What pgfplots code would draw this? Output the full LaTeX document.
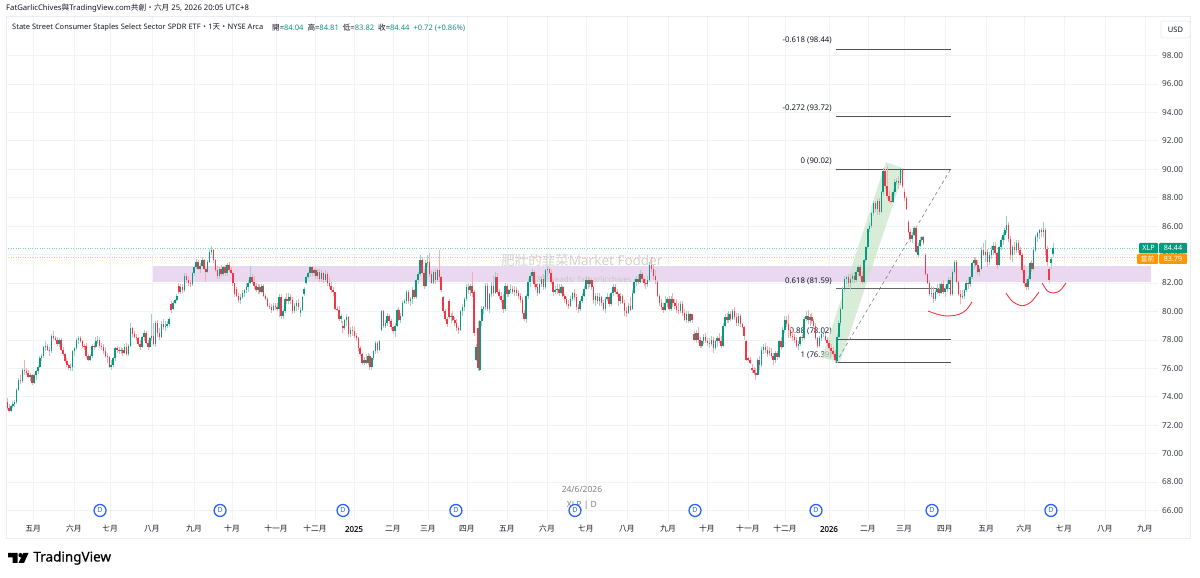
\documentclass[border=0pt]{standalone}
\usepackage{fontspec}
\usepackage{pgfplots}
\usepackage{pgfplotstable}
\pgfplotsset{compat=1.18}
\setmainfont{Noto Sans}
\newfontfamily\cjkf{Noto Sans CJK TC}
\newfontfamily\fakeb[FakeBold=0.7]{Noto Sans}
\newfontfamily\logof[FakeBold=0.5]{Noto Sans}
\newcommand\zh[1]{{\cjkf #1}}
\definecolor{tvgreen}{HTML}{089981}
\definecolor{tvred}{HTML}{F23645}
\definecolor{tvorange}{HTML}{FF9800}
\definecolor{tvblue}{HTML}{2962FF}
\definecolor{tvgrid}{HTML}{F1F3F6}
\definecolor{tvframe}{HTML}{E9ECF1}
\definecolor{tvtext}{HTML}{131722}
\definecolor{zone}{HTML}{E8D5EF}
\definecolor{channel}{HTML}{C8E6C9}
\definecolor{wm}{HTML}{D2D2D2}
\colorlet{wickg}{tvgreen!42!white}
\colorlet{wickr}{tvred!42!white}
\pgfplotstableread{
i o h l c
0 73.6 73.9 73.1 73.2
1 73.2 73.5 72.95 73.0
2 73.0 73.4 72.95 73.35
3 73.35 73.7 73.2 73.5
4 73.5 73.8 73.3 73.6
5 73.6 74.6 73.5 74.5
6 74.5 75.3 74.4 75.2
7 75.2 75.5 74.9 75.1
8 75.1 76.0 75.0 75.9
9 75.9 76.6 75.5 75.8
10 75.8 76.0 75.5 75.7
11 75.7 75.9 75.3 75.4
12 75.4 75.7 75.1 75.5
13 75.5 75.6 74.8 75.0
14 75.0 75.6 74.9 75.5
15 75.5 75.9 75.2 75.8
16 75.8 76.2 75.6 76.1
17 76.1 76.9 76.0 76.7
18 76.7 77.0 76.5 76.9
19 76.9 77.6 76.7 77.5
20 77.5 77.9 77.2 77.6
21 77.6 77.7 77.2 77.3
22 77.3 77.5 76.9 77.2
23 77.2 78.4 77.1 78.3
24 78.3 78.6 78.0 78.1
25 78.1 78.3 77.9 78.0
26 78.0 78.2 77.6 77.7
27 77.7 78.1 77.5 78.0
28 78.0 78.1 77.2 77.3
29 77.3 77.5 76.9 77.0
30 77.0 77.1 76.4 76.5
31 76.5 76.7 76.1 76.2
32 76.2 76.3 75.9 76.0
33 76.0 76.3 75.8 76.1
34 76.1 77.3 75.8 77.2
35 77.2 77.5 76.9 77.4
36 77.4 78.1 77.3 78.0
37 78.0 78.3 77.7 78.1
38 78.1 78.3 77.8 77.9
39 77.9 78.0 77.4 77.6
40 77.6 77.7 77.3 77.5
41 77.6 77.8 76.7 76.9
42 76.9 77.0 76.5 76.6
43 76.6 77.0 76.5 76.9
44 76.9 77.7 76.7 77.6
45 77.6 77.8 77.3 77.5
46 77.5 78.2 77.4 77.9
47 77.9 78.3 77.7 78.0
48 78.0 78.2 77.4 77.6
49 77.6 77.8 77.3 77.5
50 77.5 77.7 77.0 77.2
51 77.2 77.5 76.7 76.9
52 76.9 77.1 76.4 76.8
53 76.8 76.9 76.0 76.1
54 76.1 76.6 75.9 76.2
55 76.2 76.8 76.1 76.7
56 76.7 77.5 76.5 77.4
57 77.4 77.6 77.1 77.3
58 77.3 77.5 77.0 77.2
59 77.2 77.5 77.0 77.3
60 77.3 77.4 76.9 77.1
61 77.1 77.7 77.0 77.5
62 77.5 77.8 76.9 77.0
63 77.0 77.7 76.9 77.6
64 77.6 79.2 77.5 78.8
65 78.8 78.9 78.2 78.4
66 78.4 78.6 78.1 78.2
67 78.2 78.4 77.9 78.1
68 78.1 78.2 77.6 77.7
69 77.7 78.0 77.3 77.5
70 77.5 78.3 77.4 78.2
71 78.2 78.7 77.9 78.5
72 78.5 78.6 77.7 77.8
73 77.8 78.0 77.3 77.5
74 77.5 78.2 77.4 78.1
75 78.1 79.8 77.9 78.3
76 78.3 79.2 77.6 77.7
77 77.7 79.3 77.5 79.2
78 79.2 79.4 78.2 78.5
79 78.5 78.8 78.0 78.2
80 78.2 79.3 78.1 79.1
81 79.1 79.5 78.7 78.9
82 78.9 79.3 78.6 79.0
83 79.0 79.3 78.8 79.1
84 79.1 79.6 78.9 79.5
85 80.5 80.7 79.9 80.1
86 80.2 80.7 80.1 80.6
87 80.6 80.9 80.5 80.8
88 80.8 81.2 80.7 81.1
89 81.8 82.0 81.2 81.4
90 81.4 81.9 81.2 81.7
91 81.7 81.9 81.3 81.5
92 81.5 82.7 81.4 82.5
93 82.5 82.7 82.0 82.2
94 82.2 82.4 81.8 82.0
95 82.0 82.2 81.7 81.9
96 81.9 82.8 81.8 82.7
97 82.7 83.2 82.5 83.1
98 83.1 83.7 83.0 83.5
99 83.5 83.6 82.9 83.0
100 83.0 83.4 82.7 83.2
101 83.2 83.8 83.1 83.6
102 83.6 83.7 82.9 83.0
103 83.0 83.2 82.1 82.8
104 82.8 83.6 82.7 83.5
105 83.5 84.4 83.4 84.2
106 84.2 84.6 84.0 84.3
107 84.3 84.4 83.4 83.6
108 83.6 83.7 82.8 82.9
109 82.9 83.2 82.3 82.5
110 82.5 83.1 82.3 83.0
111 83.0 83.3 82.4 82.6
112 82.6 83.2 82.5 83.1
113 83.1 83.3 82.5 82.7
114 82.7 83.4 82.5 83.3
115 83.3 83.5 82.8 82.9
116 82.9 83.1 82.6 82.7
117 82.7 82.8 81.8 82.0
118 82.0 82.0 81.0 81.2
119 81.6 81.7 81.0 81.1
120 81.1 81.3 80.6 80.8
121 80.8 81.2 80.5 81.0
122 81.0 81.5 80.9 81.3
123 81.3 81.6 81.0 81.5
124 81.5 82.0 81.3 81.7
125 81.7 82.2 81.4 82.0
126 82.0 83.2 81.9 82.4
127 82.4 82.6 81.9 82.1
128 82.1 82.5 81.6 81.8
129 81.8 82.0 81.4 81.5
130 81.5 81.9 81.2 81.7
131 81.7 81.9 81.2 81.4
132 81.4 81.9 81.3 81.8
133 81.8 81.9 81.0 81.1
134 81.1 81.2 80.8 80.9
135 80.9 81.0 80.3 80.4
136 80.4 80.6 80.2 80.3
137 80.3 80.5 79.9 80.1
138 80.1 80.6 80.0 80.4
139 80.4 80.6 80.1 80.3
140 80.3 80.6 80.0 80.2
141 80.2 81.2 79.6 81.0
142 81.0 81.2 79.5 79.7
143 79.7 80.2 79.5 80.0
144 80.0 81.0 79.9 80.9
145 80.9 81.3 80.5 80.7
146 80.7 81.3 80.5 81.0
147 81.0 81.2 80.5 80.8
148 80.8 81.0 79.8 80.0
149 80.0 80.6 79.9 80.4
150 80.4 80.8 80.0 80.6
151 80.6 80.9 80.1 80.3
152 79.9 80.3 79.6 80.1
153 80.1 81.1 80.0 81.0
154 81.2 81.7 81.1 81.6
155 82.0 82.5 81.9 82.4
156 82.4 82.8 82.3 82.7
157 82.7 83.2 82.4 83.1
158 83.1 83.2 82.5 82.7
159 82.7 83.0 82.5 82.9
160 82.9 83.1 82.3 82.5
161 82.5 83.0 82.3 82.8
162 82.8 83.0 82.1 82.3
163 82.3 82.9 82.1 82.7
164 82.7 82.8 82.0 82.2
165 82.2 82.9 82.1 82.6
166 82.6 82.8 81.8 82.0
167 82.0 82.4 81.6 81.8
168 81.8 82.1 81.3 81.5
169 81.5 81.7 81.1 81.4
170 81.4 81.4 80.1 80.2
171 80.2 80.4 80.0 80.1
172 80.1 80.4 79.3 79.5
173 79.5 79.8 79.2 79.7
174 79.0 79.3 78.5 78.8
175 78.8 79.5 78.7 79.4
176 79.4 79.8 79.0 79.6
177 79.6 79.7 78.2 78.4
178 78.4 78.9 78.2 78.7
179 78.7 79.0 78.3 78.6
180 78.6 78.9 78.1 78.3
181 78.3 78.5 77.9 78.1
182 78.1 78.2 77.2 77.4
183 77.4 77.6 76.9 77.0
184 77.0 77.1 76.2 76.4
185 76.4 76.8 76.2 76.6
186 76.6 77.0 76.3 76.4
187 76.4 77.1 76.2 76.9
188 76.9 77.0 75.9 76.1
189 76.1 76.8 75.9 76.7
190 76.7 77.3 76.6 77.2
191 77.2 77.9 77.0 77.8
192 77.8 77.9 77.1 77.3
193 77.3 78.0 77.2 77.9
194 78.7 80.1 78.6 80.0
195 80.0 80.1 78.8 79.0
196 79.0 79.4 78.8 79.2
197 79.2 79.9 79.0 79.7
198 79.7 79.8 79.1 79.3
199 79.3 79.5 78.7 78.9
200 78.9 79.0 78.4 78.6
201 78.6 79.2 78.2 79.0
202 79.0 80.2 78.9 80.1
203 80.1 80.3 79.3 79.4
204 79.4 79.9 79.2 79.7
205 79.7 80.7 79.6 80.6
206 80.6 80.9 80.5 80.7
207 80.7 81.5 80.5 81.4
208 81.4 81.5 80.5 80.7
209 80.7 81.0 80.4 80.9
210 80.9 81.7 80.5 81.5
211 81.5 81.6 80.9 81.0
212 81.0 82.3 80.9 82.2
213 82.2 82.8 81.9 82.6
214 82.6 84.0 82.5 83.6
215 83.6 83.8 82.6 82.7
216 82.7 83.0 81.6 81.8
217 81.8 83.6 81.7 83.4
218 83.4 84.0 83.1 83.5
219 83.5 84.1 82.4 82.6
220 82.6 82.9 81.9 82.0
221 82.0 82.9 81.9 82.8
222 82.8 83.0 81.9 82.2
223 82.2 83.0 82.1 82.9
224 82.9 84.3 82.1 82.4
225 82.4 82.5 81.4 81.5
226 81.0 81.1 79.9 80.0
227 80.0 80.2 79.3 79.5
228 79.5 79.6 78.9 79.1
229 80.7 80.9 79.5 79.6
230 79.6 79.9 79.2 79.7
231 79.7 80.0 79.3 79.4
232 79.4 79.6 79.0 79.2
233 79.2 79.5 78.6 78.8
234 78.8 79.0 78.4 78.7
235 78.7 80.1 78.6 80.0
236 80.0 80.5 79.7 80.3
237 80.3 81.0 80.0 80.9
238 80.9 81.9 80.7 81.7
239 81.7 82.0 81.2 81.5
240 81.5 81.9 81.1 81.8
241 81.8 82.8 81.0 81.3
242 81.4 81.5 78.3 78.5
243 76.6 77.7 76.5 77.5
244 78.8 79.3 75.8 76.0
245 75.9 79.4 75.8 79.3
246 79.3 80.4 79.0 80.2
247 80.2 80.4 79.8 80.3
248 80.3 82.0 80.1 81.8
249 81.8 82.0 80.0 80.2
250 80.2 81.3 79.9 81.2
251 81.2 82.1 81.0 81.8
252 81.8 82.5 81.1 81.3
253 81.3 82.8 81.2 82.4
254 82.4 82.7 81.2 81.4
255 81.4 81.6 80.9 81.1
256 81.1 81.4 80.6 80.8
257 80.8 81.2 79.9 80.2
258 80.2 82.0 80.0 81.8
259 81.8 81.9 81.0 81.2
260 81.2 81.6 81.0 81.5
261 81.5 81.9 81.3 81.6
262 81.6 81.8 81.2 81.4
263 81.4 81.8 81.1 81.5
264 81.5 81.7 81.1 81.3
265 81.3 81.5 80.9 81.1
266 81.1 81.3 80.6 80.8
267 80.8 81.0 79.8 79.9
268 79.9 80.1 79.3 79.5
269 79.5 81.2 79.2 81.1
270 81.1 82.3 80.9 82.1
271 82.1 82.7 81.7 82.5
272 82.5 83.0 82.1 82.8
273 82.8 82.9 81.7 81.9
274 81.9 82.2 81.5 81.7
275 81.7 82.0 81.1 81.3
276 81.3 82.0 81.2 81.9
277 81.9 82.5 81.7 82.3
278 82.3 82.6 81.5 81.7
279 81.7 83.0 81.6 82.9
280 82.9 83.2 82.5 83.0
281 83.0 83.1 82.6 82.7
282 82.7 83.0 81.9 82.1
283 82.1 82.2 81.1 81.4
284 81.4 81.8 81.2 81.5
285 81.5 81.9 81.2 81.6
286 81.6 81.9 81.1 81.3
287 81.3 81.9 81.2 81.7
288 81.7 81.8 81.0 81.1
289 81.1 81.2 80.6 80.9
290 80.9 81.0 80.4 80.5
291 80.5 80.8 80.2 80.4
292 80.4 81.1 80.3 80.9
293 80.9 81.4 80.7 81.3
294 81.3 81.6 80.8 81.0
295 81.0 81.2 80.1 80.3
296 80.3 80.5 79.9 80.2
297 80.2 80.9 80.0 80.7
298 80.7 81.3 80.6 81.1
299 81.1 81.8 81.0 81.6
300 81.6 82.5 81.5 82.2
301 82.2 82.4 81.6 81.9
302 81.9 82.3 81.7 82.2
303 82.2 82.3 81.5 81.7
304 81.7 81.8 80.5 80.8
305 80.8 81.3 80.4 81.1
306 81.1 81.3 80.5 80.7
307 80.7 81.3 80.4 81.0
308 81.0 81.1 80.4 80.6
309 80.6 80.8 80.0 80.2
310 80.2 81.0 79.9 80.9
311 80.9 81.3 80.7 81.0
312 81.0 81.2 80.3 80.5
313 80.5 81.4 80.4 81.3
314 81.3 81.9 81.1 81.7
315 81.7 81.9 81.2 81.4
316 81.4 81.6 81.0 81.2
317 81.2 81.3 80.4 80.7
318 80.7 81.3 80.5 81.1
319 81.1 81.2 80.5 80.6
320 80.6 80.8 79.7 80.0
321 80.0 80.3 79.6 79.9
322 79.9 80.6 79.8 80.4
323 80.4 81.0 80.0 80.1
324 80.2 81.5 80.1 81.3
325 81.3 82.3 81.2 82.1
326 82.1 82.5 81.8 82.3
327 82.3 82.6 81.9 82.1
328 82.1 82.9 82.0 82.6
329 82.6 82.8 82.1 82.3
330 82.3 82.4 81.8 82.0
331 82.0 82.3 81.6 81.9
332 81.9 82.5 81.7 82.2
333 82.2 83.5 82.1 83.3
334 83.3 83.85 82.8 83.0
335 83.0 83.3 82.2 82.5
336 82.5 82.9 81.9 82.2
337 82.1 82.2 81.0 81.1
338 81.1 81.2 80.4 80.6
339 80.6 80.9 80.1 80.3
340 80.3 80.6 79.9 80.1
341 80.1 81.1 80.0 80.6
342 80.6 81.0 80.3 80.9
343 80.9 81.1 80.0 80.2
344 80.2 81.1 80.0 80.9
345 80.9 81.3 80.3 80.6
346 80.6 80.9 80.2 80.4
347 80.4 80.9 79.9 80.1
348 80.1 80.6 79.8 80.0
349 80.0 80.7 79.9 80.5
350 80.5 80.7 79.7 79.9
351 79.9 80.2 79.3 79.4
352 79.4 80.0 79.2 79.8
353 79.8 80.0 79.2 79.3
354 79.3 79.9 79.2 79.8
355 79.8 79.8 79.2 79.4
356 78.4 78.6 77.9 78.0
357 78.0 78.7 77.8 78.5
358 78.5 78.9 77.8 78.0
359 78.0 78.2 77.4 77.6
360 77.6 78.0 77.4 77.9
361 77.9 78.4 77.7 78.2
362 78.2 78.5 77.8 77.9
363 77.9 78.1 77.6 77.8
364 77.8 78.1 77.4 77.7
365 77.7 78.3 77.6 78.0
366 78.0 78.2 77.1 77.4
367 77.4 78.0 77.3 77.9
368 77.9 78.3 77.5 78.1
369 78.1 78.5 77.8 77.9
370 77.9 78.3 77.4 77.6
371 77.6 79.2 77.5 79.0
372 79.0 79.8 78.9 79.6
373 79.6 79.9 79.2 79.4
374 79.4 80.0 79.2 79.8
375 79.8 80.0 79.3 79.5
376 79.5 80.2 79.4 80.0
377 80.0 80.3 79.4 79.6
378 79.6 79.9 79.0 79.2
379 79.2 79.9 79.0 79.7
380 79.7 79.8 78.9 79.1
381 79.1 79.2 78.8 78.9
382 78.9 79.0 78.0 78.3
383 77.9 78.0 76.5 76.6
384 76.7 76.8 76.5 76.6
385 76.6 76.8 76.3 76.4
386 76.0 76.3 75.7 75.9
387 75.9 76.1 75.5 75.7
388 75.7 76.0 75.2 75.5
389 75.5 76.7 75.5 76.6
390 76.6 76.9 75.9 76.2
391 76.2 77.5 76.1 77.3
392 77.3 77.7 77.0 77.5
393 77.5 77.8 77.1 77.3
394 77.3 77.6 76.8 77.0
395 77.2 77.5 76.9 77.1
396 77.1 77.4 76.7 76.9
397 76.9 77.1 76.2 76.6
398 76.6 77.2 76.4 77.1
399 77.1 77.2 76.6 76.8
400 76.8 78.0 76.7 77.9
401 77.9 78.2 77.3 77.5
402 77.5 78.9 77.4 78.7
403 78.7 79.7 78.5 79.4
404 79.4 79.7 78.9 79.1
405 79.1 79.8 78.1 78.7
406 78.7 78.9 78.1 78.3
407 78.3 78.6 77.9 78.2
408 78.2 78.4 77.8 78.0
409 78.0 78.2 77.4 77.6
410 77.6 77.9 77.3 77.7
411 77.7 78.3 77.6 78.2
412 78.2 78.4 77.9 78.1
413 78.1 79.6 78.0 79.5
414 79.5 80.0 79.3 79.7
415 79.7 80.1 79.1 79.4
416 79.4 79.8 79.0 79.6
417 79.6 79.9 79.1 79.3
418 79.3 79.5 78.8 79.0
419 79.0 79.2 78.0 78.1
420 78.1 78.2 77.4 77.6
421 77.6 78.3 77.5 78.1
422 78.1 78.5 77.9 78.4
423 78.4 78.6 78.2 78.5
424 78.3 78.5 77.9 78.0
425 78.0 78.2 77.6 77.8
426 77.8 78.0 77.3 77.4
427 77.4 77.7 77.0 77.2
428 77.2 77.5 76.8 77.0
429 77.0 77.3 76.4 76.6
430 76.5 78.4 76.39 78.2
431 78.2 79.4 78.1 79.2
432 79.2 80.3 79.0 80.2
433 80.2 81.7 80.1 81.6
434 81.6 82.5 81.4 82.3
435 82.3 82.5 81.9 82.4
436 82.4 82.6 81.7 82.0
437 82.0 82.6 81.5 82.3
438 82.3 82.7 82.0 82.5
439 82.5 82.8 82.0 82.2
440 82.2 82.9 82.1 82.8
441 82.8 83.3 82.5 83.1
442 83.1 83.3 82.3 82.5
443 82.5 82.8 81.9 82.1
444 82.1 83.7 82.0 83.6
445 83.6 84.6 83.5 84.5
446 84.5 85.9 84.4 85.8
447 85.8 86.2 85.6 86.0
448 86.0 87.0 85.9 86.9
449 86.9 87.8 86.7 87.6
450 87.6 87.8 87.0 87.2
451 87.2 87.9 86.8 87.8
452 87.8 88.0 86.8 87.0
453 87.0 88.5 86.9 88.4
454 88.4 90.1 88.2 89.9
455 89.9 90.0 88.6 88.8
456 88.8 90.2 87.9 88.1
457 88.1 88.5 87.6 87.8
458 87.8 88.3 87.6 87.7
459 87.7 88.6 87.6 88.4
460 88.4 89.3 88.2 89.1
461 89.1 89.4 88.9 89.2
462 89.2 89.5 88.6 89.0
463 89.0 90.1 88.9 90.0
464 90.0 90.05 88.7 88.8
465 88.4 88.6 87.8 88.0
466 88.0 88.1 87.1 87.2
467 86.3 86.4 85.5 85.6
468 85.6 85.8 84.9 85.1
469 85.1 85.6 84.8 85.4
470 85.4 86.0 85.3 85.9
471 85.9 86.0 84.1 84.2
472 84.0 84.8 83.8 84.6
473 84.6 85.2 84.5 85.0
474 85.0 85.3 84.9 85.2
475 85.2 85.3 84.7 84.8
476 84.0 84.1 82.5 82.6
477 82.6 82.7 81.9 82.0
478 82.0 82.2 81.1 81.2
479 81.2 81.8 81.0 81.3
480 81.3 81.7 80.6 80.9
481 80.9 81.5 80.7 81.4
482 81.4 81.9 81.2 81.6
483 81.6 82.0 81.1 81.3
484 81.3 82.1 81.2 81.9
485 81.9 82.2 81.2 81.4
486 81.4 81.8 81.0 81.6
487 81.6 82.2 81.4 81.9
488 81.9 82.4 81.6 82.2
489 82.2 82.4 81.1 81.2
490 81.2 82.9 81.1 82.8
491 82.8 83.6 82.6 83.5
492 83.5 83.6 82.0 82.1
493 82.1 82.2 81.1 81.2
494 81.2 81.5 80.5 81.0
495 81.0 81.5 80.9 81.1
496 81.1 81.6 80.9 81.5
497 81.5 82.2 81.4 82.0
498 82.0 82.4 81.6 81.9
499 81.9 82.5 81.7 82.4
500 82.4 83.5 82.3 83.4
501 83.4 83.8 83.0 83.6
502 83.6 83.8 83.1 83.3
503 83.3 83.6 82.6 82.8
504 82.8 83.1 82.5 83.0
505 83.0 84.5 82.9 84.3
506 84.3 84.8 83.9 84.0
507 84.0 85.0 83.5 84.2
508 84.2 84.4 83.1 83.5
509 83.5 84.2 83.3 84.0
510 84.0 84.6 83.7 84.3
511 84.3 84.9 84.0 84.6
512 84.6 84.9 84.0 84.1
513 84.1 84.2 83.0 83.3
514 83.3 84.6 83.2 84.5
515 84.5 85.2 84.3 85.0
516 85.0 85.6 84.7 85.4
517 85.4 85.9 85.0 85.7
518 85.7 86.7 85.5 86.1
519 86.1 86.3 84.9 85.1
520 85.1 85.3 83.6 84.0
521 84.0 84.7 83.5 84.5
522 84.5 84.9 84.0 84.3
523 84.3 85.0 84.1 84.8
524 84.8 85.0 84.1 84.3
525 84.3 84.5 83.9 84.0
526 84.0 84.1 82.7 82.9
527 82.9 83.3 81.8 82.0
528 82.0 82.3 81.5 81.7
529 81.7 82.5 81.5 82.3
530 82.3 83.5 82.2 83.4
531 83.4 83.6 82.8 83.0
532 83.0 84.5 82.9 84.3
533 84.3 85.4 84.2 85.2
534 85.2 85.6 84.9 85.5
535 85.5 85.8 85.1 85.7
536 85.7 85.9 85.2 85.6
537 85.6 86.3 85.2 85.7
538 85.7 85.9 84.0 84.4
539 84.4 84.6 83.2 83.5
540 83.0 83.1 82.0 82.2
541 83.4 83.8 83.0 83.7
542 84.04 84.81 83.82 84.44
}\candles
\begin{document}
\begin{tikzpicture}
\useasboundingbox (-6pt,-58pt) rectangle (1194pt,520pt);
\begin{axis}[
  at={(0pt,0pt)}, anchor=south west, scale only axis,
  width=1152pt, height=504pt,
  xmin=-0.52, xmax=596.4, ymin=65.33, ymax=100.78,
  axis line style={draw=none},
  major tick length=0pt,
  grid=major, grid style={tvgrid, line width=0.7pt},
  ytick={66,68,...,98},
  yticklabel pos=right,
  /pgf/number format/fixed,
  /pgf/number format/fixed zerofill,
  /pgf/number format/precision=2,
  /pgf/number format/1000 sep={},
  /pgf/number format/assume math mode=true,
  y tick label style={font=\fontsize{8.2}{9}\selectfont,text=tvtext!85,anchor=west,xshift=3pt},
  xtick={13.5,34.7,53.4,75.1,96.9,116.6,139.4,159.6,179.8,200,218.1,238.3,259,279.8,300,321.2,342.5,362.7,383.9,403.1,425.9,446.1,464.8,486,507.3,527,547.7,568.9,589.6},
  xticklabels={\zh{五月},\zh{六月},\zh{七月},\zh{八月},\zh{九月},\zh{十月},\zh{十一月},\zh{十二月},{\fakeb 2025},\zh{二月},\zh{三月},\zh{四月},\zh{五月},\zh{六月},\zh{七月},\zh{八月},\zh{九月},\zh{十月},\zh{十一月},\zh{十二月},{\fakeb 2026},\zh{二月},\zh{三月},\zh{四月},\zh{五月},\zh{六月},\zh{七月},\zh{八月},\zh{九月}},
  x tick label style={font=\fontsize{7.8}{9}\selectfont,text=tvtext,anchor=center,yshift=-9pt},
  every tick label/.append style={inner sep=1pt},
]
% resistance zone
\addplot[draw=none,fill=zone,fill opacity=0.92,forget plot] coordinates {(75.6,83.2)(592.7,83.2)(592.7,82.07)(75.6,82.07)} --cycle;
% watermark and fibonacci labels, under the candles
\node[text=wm,font=\fontsize{13.5}{14}\selectfont] at (axis cs:297.9,83.62) {\zh{肥壯的韭菜}Market Fodder};
\node[text=wm!85!gray,font=\fontsize{8}{9}\selectfont] at (axis cs:297.9,82.18) {X\&Threads: fatgarlicchives};
\node[text=gray,font=\fontsize{8.5}{9}\selectfont] at (axis cs:297.9,67.47) {24/6/2026};
\node[text=gray,font=\fontsize{8.5}{9}\selectfont] at (axis cs:297.9,66.34) {XLP | D};
\foreach \yy/\lbl in {99.05/-0.618 (98.44),94.31/-0.272 (93.72),90.58/0 (90.02),82.14/0.618 (81.59),78.63/0.88 (78.02),76.94/1 (76.39)}{
  \edef\temp{\noexpand\node[anchor=east,text=tvtext,inner sep=0pt,font=\noexpand\fontsize{7.8}{9}\noexpand\selectfont] at (axis cs:427.46,\yy) {\lbl};}
  \temp
}
% last and pre-market price lines
\addplot[tvgreen!50,line width=0.6pt,dash pattern=on 1pt off 1.4pt,forget plot] coordinates {(-0.5,84.44)(586,84.44)};
\addplot[tvorange!60,line width=0.6pt,dash pattern=on 1pt off 1.4pt,forget plot] coordinates {(-0.5,83.79)(586,83.79)};
% rising channel
\addplot[draw=none,fill=channel,fill opacity=0.72,forget plot] coordinates {(455.4,90.5)(465.3,90.02)(431.6,76.4)(422.3,76.75)} --cycle;
% fibonacci lines
\addplot[tvtext!75,line width=0.9pt,forget plot] coordinates {(429.5,98.44)(489,98.44)};
\addplot[tvtext!75,line width=0.9pt,forget plot] coordinates {(429.5,93.72)(489,93.72)};
\addplot[tvtext!75,line width=0.9pt,forget plot] coordinates {(429.5,90.02)(489,90.02)};
\addplot[tvtext!65,line width=1.1pt,forget plot] coordinates {(429.5,81.59)(489,81.59)};
\addplot[tvtext!75,line width=0.9pt,forget plot] coordinates {(429.5,78.02)(489,78.02)};
\addplot[tvtext!75,line width=0.9pt,forget plot] coordinates {(429.5,76.39)(489,76.39)};
\addplot[gray,line width=0.6pt,dash pattern=on 3.5pt off 3pt,forget plot] coordinates {(429.5,76.39)(489,90.02)};
% candles: wicks then bodies
\addplot[draw=none,mark=none,forget plot,error bars/.cd,y dir=plus,y explicit,error mark=none,error bar style={draw=wickg,line width=0.7pt}]
  table[x expr={\thisrow{c}>=\thisrow{o}?\thisrow{i}:nan},y=l,y error plus expr=\thisrow{h}-\thisrow{l}] {\candles};
\addplot[draw=none,mark=none,forget plot,error bars/.cd,y dir=plus,y explicit,error mark=none,error bar style={draw=wickr,line width=0.7pt}]
  table[x expr={\thisrow{c}<\thisrow{o}?\thisrow{i}:nan},y=l,y error plus expr=\thisrow{h}-\thisrow{l}] {\candles};
\addplot[draw=none,mark=none,forget plot,error bars/.cd,y dir=plus,y explicit,error mark=none,error bar style={draw=tvgreen,line width=1.5pt}]
  table[x expr={\thisrow{c}>=\thisrow{o}?\thisrow{i}:nan},y=o,y error plus expr=\thisrow{c}-\thisrow{o}] {\candles};
\addplot[draw=none,mark=none,forget plot,error bars/.cd,y dir=plus,y explicit,error mark=none,error bar style={draw=tvred,line width=1.5pt}]
  table[x expr={\thisrow{c}<\thisrow{o}?\thisrow{i}:nan},y=c,y error plus expr=\thisrow{o}-\thisrow{c}] {\candles};
% red bowls
\addplot[tvred,line width=0.9pt,smooth,forget plot] coordinates {(477.2,80.03)(482,79.8)(487,79.68)(493,79.78)(497,80.1)(500,80.67)};
\addplot[tvred,line width=0.9pt,smooth,forget plot] coordinates {(517.6,81.3)(521,80.7)(525.9,80.4)(530.5,80.65)(534.7,81.37)};
\addplot[tvred,line width=0.9pt,smooth,forget plot] coordinates {(536.3,82.0)(539,81.45)(542,81.3)(545.5,81.45)(548.7,82.0)};
% dividend marks
\addplot[only marks,mark=*,mark size=6pt,mark options={fill=white,draw=tvblue,line width=1.3pt},
  nodes near coords={D},nodes near coords align={center},
  every node near coord/.append style={font=\fontsize{7}{8}\selectfont,text=tvblue,inner sep=0pt,anchor=center},forget plot]
  coordinates {(48.2,66)(110.4,66)(174.1,66)(232.6,66)(294.3,66)(356.5,66)(419.2,66)(479.3,66)(540.9,66)};
\end{axis}
% page furniture, placed in reference pixels
\begin{scope}[x=1pt,y=-1pt,shift={(-6pt,520pt)}]
\draw[tvframe,line width=0.8pt] (6,16) rectangle (1190,538);
\node[anchor=west,inner sep=0pt,text=tvtext,font=\fontsize{7.7}{9}\selectfont] at (6,8.5) {FatGarlicChives\zh{與}TradingView.com\zh{共創・六月} 25, 2026 20:05 UTC+8};
\node[anchor=west,inner sep=0pt,text=tvtext,font=\fontsize{7.5}{9}\selectfont] at (12,27.5) {State Street Consumer Staples Select Sector SPDR ETF\zh{・}1\zh{天}\zh{・}NYSE Arca};
\node[anchor=west,inner sep=0pt,text=tvtext,font=\fontsize{7.6}{9}\selectfont] at (272,27.5) {\zh{開}=\textcolor{tvgreen}{84.04}\ \ \zh{高}=\textcolor{tvgreen}{84.81}\ \ \zh{低}=\textcolor{tvgreen}{83.82}\ \ \zh{收}=\textcolor{tvgreen}{84.44}\ \ \textcolor{tvgreen}{+0.72 (+0.86\%)}};
\draw[tvframe,fill=white,line width=0.8pt,rounded corners=2pt] (1161,21) rectangle (1190,38);
\node[text=tvtext,font=\fontsize{7.5}{9}\selectfont] at (1175.5,29.5) {USD};
\fill[tvgreen,rounded corners=1pt] (1139,243) rectangle (1158,253.5);
\fill[tvgreen,rounded corners=1pt] (1159,243) rectangle (1187,253.5);
\node[inner sep=0pt,text=white,font=\fontsize{7.2}{8}\selectfont] at (1148.5,247.8) {XLP};
\node[inner sep=0pt,text=white,font=\fontsize{7.2}{8}\selectfont] at (1173,247.8) {84.44};
\fill[tvorange,rounded corners=1pt] (1137,254) rectangle (1158,264);
\fill[tvorange,rounded corners=1pt] (1159,254) rectangle (1187,264);
\node[inner sep=0pt,text=white,font=\fontsize{6.6}{7}\selectfont] at (1147.5,259.4) {\zh{當前}};
\node[inner sep=0pt,text=white,font=\fontsize{7.2}{8}\selectfont] at (1173,259.4) {83.79};
% TradingView logo
\fill[black] (8,553)--(17.5,553)--(17.5,563)--(12.5,563)--(12.5,557.5)--(8,557.5)--cycle;
\fill[black] (20.6,555.2) circle (2.2);
\fill[black] (23.5,553)--(28.5,553)--(24,563)--(18.5,563)--cycle;
\node[anchor=west,inner sep=0pt,text=black,font=\fontsize{13.5}{15}\selectfont\logof] at (33.2,558) {TradingView};
\end{scope}
\end{tikzpicture}
\end{document}
